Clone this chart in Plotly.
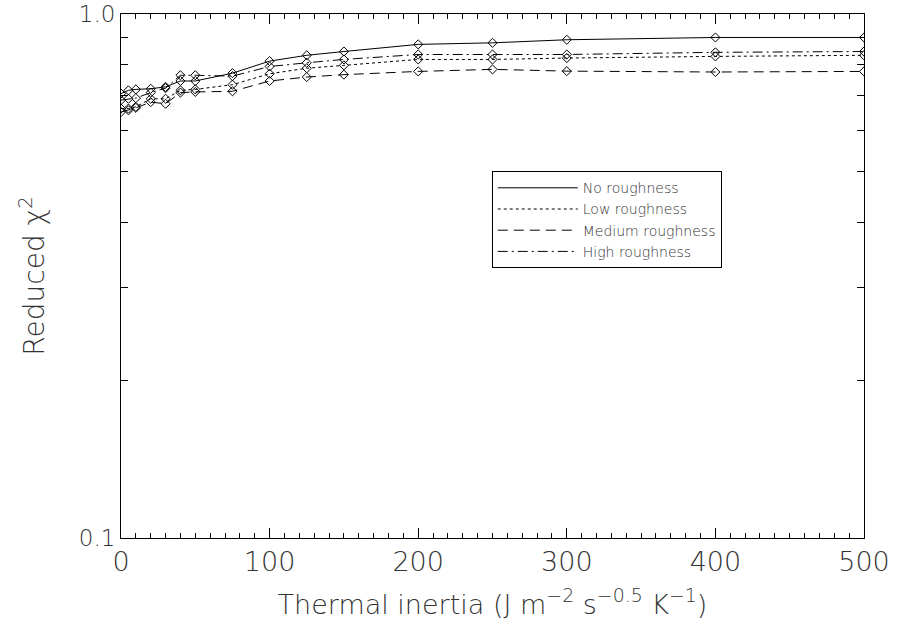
import plotly.graph_objects as go

# Thermal inertia grid (J m^-2 s^-0.5 K^-1)
thermal_inertia = [0, 5, 10, 20, 30, 40, 50, 75, 100, 125, 150, 200, 250, 300, 400, 500]

# Reduced chi-squared for each roughness model
chi2_none = [0.705, 0.715, 0.718, 0.720, 0.726, 0.745, 0.745, 0.771, 0.813, 0.834,
             0.848, 0.875, 0.881, 0.893, 0.902, 0.902]
chi2_low = [0.660, 0.660, 0.665, 0.689, 0.689, 0.715, 0.718, 0.733, 0.769, 0.788,
            0.798, 0.819, 0.819, 0.824, 0.830, 0.834]
chi2_medium = [0.650, 0.655, 0.662, 0.679, 0.674, 0.708, 0.710, 0.712, 0.745, 0.758,
               0.766, 0.777, 0.784, 0.778, 0.775, 0.777]
chi2_high = [0.685, 0.689, 0.691, 0.708, 0.722, 0.764, 0.764, 0.761, 0.794, 0.807,
             0.819, 0.837, 0.837, 0.837, 0.845, 0.848]

series_names = ["No roughness", "Low roughness", "Medium roughness", "High roughness"]
series_values = [chi2_none, chi2_low, chi2_medium, chi2_high]
series_dash = ["solid", "dot", "10px,6px", "10px,4px,2px,4px"]

y_tick_values = [0.1, 0.2, 0.3, 0.4, 0.5, 0.6, 0.7, 0.8, 0.9, 1.0]
y_tick_labels = ["0.1", "", "", "", "", "", "", "", "", "1.0"]

FONT = "DejaVu Sans"
TEXT = "#333"

fig = go.Figure()
for name, vals, dash in zip(series_names, series_values, series_dash):
    fig.add_trace(go.Scatter(
        x=thermal_inertia, y=vals, mode="lines", name=name,
        line=dict(color="black", width=1, dash=dash),
    ))
    fig.add_trace(go.Scatter(
        x=thermal_inertia, y=vals, mode="markers", showlegend=False,
        marker=dict(symbol="diamond-open", size=7, color="black",
                    line=dict(width=1, color="black")),
    ))

fig.update_layout(
    width=899, height=634,
    margin=dict(l=121, r=35, t=14, b=96),
    paper_bgcolor="white", plot_bgcolor="white",
    font=dict(family=FONT, color=TEXT, weight=200),
    showlegend=True,
    legend=dict(
        x=0.499, y=0.70, xanchor="left", yanchor="top",
        bgcolor="white", bordercolor="black", borderwidth=1,
        font=dict(family=FONT, size=14, color=TEXT, weight=200),
        itemwidth=80, tracegroupgap=0,
    ),
    xaxis=dict(
        range=[0, 500], tickvals=[0, 100, 200, 300, 400, 500],
        automargin=False,
        ticks="inside", ticklen=10, tickwidth=1, tickcolor="black",
        showline=True, linecolor="black", linewidth=1, mirror="allticks",
        showgrid=False, zeroline=False,
        tickfont=dict(family=FONT, size=27, color=TEXT, weight=200),
        minor=dict(dtick=10, ticks="inside", ticklen=5, tickcolor="black", showgrid=False),
        title=dict(text="Thermal inertia (J m<sup>−2</sup> s<sup>−0.5</sup> K<sup>−1</sup>)",
                   font=dict(family=FONT, size=27, color=TEXT, weight=200), standoff=18),
    ),
    yaxis=dict(
        type="log", range=[-1, 0],
        tickvals=y_tick_values, ticktext=y_tick_labels,
        automargin=False,
        ticks="inside", ticklen=7, tickwidth=1, tickcolor="black",
        showline=True, linecolor="black", linewidth=1, mirror="allticks",
        showgrid=False, zeroline=False, ticklabeloverflow="allow",
        tickfont=dict(family=FONT, size=23, color=TEXT, weight=200),
        title=dict(text="Reduced χ<sup>2</sup>",
                   font=dict(family=FONT, size=28, color=TEXT, weight=200), standoff=26),
    ),
)

fig.write_html("out.html")
